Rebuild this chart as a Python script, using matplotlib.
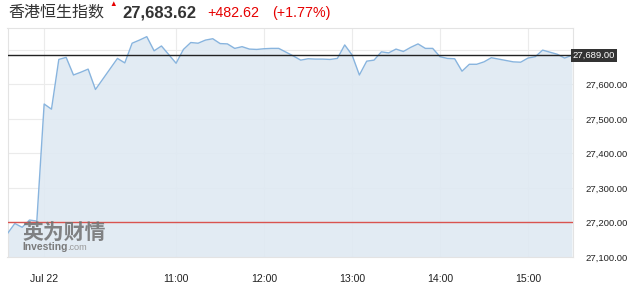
import matplotlib.pyplot as plt
import matplotlib.dates as mdates
import numpy as np
import pandas as pd

# Hang Seng index, 5 minute points on Jul 22
times = pd.date_range("2019-07-22 09:05", periods=78, freq="5min")
values = [27168, 27197, 27186, 27207, 27204, 27543, 27528, 27672, 27678, 27627,
          27635, 27644, 27585, 27615, 27645, 27675, 27662, 27719, 27728, 27738,
          27697, 27711, 27686, 27661, 27701, 27721, 27719, 27728, 27732, 27718,
          27717, 27704, 27709, 27702, 27701, 27703, 27704, 27704, 27693, 27682,
          27670, 27674, 27673, 27673, 27672, 27675, 27714, 27685, 27627, 27667,
          27670, 27694, 27691, 27702, 27695, 27707, 27717, 27704, 27704, 27680,
          27675, 27674, 27638, 27658, 27658, 27665, 27677, 27673, 27669, 27665,
          27664, 27676, 27680, 27699, 27693, 27687, 27676, 27684]

prev_close = 27200
last_price = 27683.62
last_label = "27,689.00"
y_ticks = [27100, 27200, 27300, 27400, 27500, 27600, 27700]
y_labels = ["27,100.00", "27,200.00", "27,300.00", "27,400.00", "27,500.00", "27,600.00", ""]
x_tick_times = ["2019-07-22 09:30", "2019-07-22 11:00", "2019-07-22 12:00",
                "2019-07-22 13:00", "2019-07-22 14:00", "2019-07-22 15:00"]
x_tick_labels = ["Jul 22", "11:00", "12:00", "13:00", "14:00", "15:00"]

plt.rcParams['font.family'] = ['Liberation Sans', 'Noto Sans CJK SC', 'DejaVu Sans']

fig = plt.figure(figsize=(6.44, 2.96), dpi=100)
ax = fig.add_axes([7.5 / 644, 1 - 257 / 296, (572.7 - 7.5) / 644, (257 - 27.5) / 296])

ax.fill_between(times, values, 27100, color="#dfe9f2", alpha=0.9, lw=0, zorder=2)
ax.plot(times, values, color="#88b4de", lw=1.0, zorder=3)

ax.axhline(prev_close, color="#d9534f", lw=1.0, zorder=4)
ax.axhline(last_price, color="#222222", lw=1.0, zorder=4)

ax.set_ylim(27100, 27764.5)
ax.set_xlim(pd.Timestamp("2019-07-22 09:05"), pd.Timestamp("2019-07-22 15:30:30"))

ax.yaxis.tick_right()
ax.set_yticks(y_ticks)
ax.set_yticklabels(y_labels)
ax.set_xticks([mdates.date2num(pd.Timestamp(t)) for t in x_tick_times])
ax.set_xticklabels(x_tick_labels)
ax.tick_params(axis='y', length=0, pad=9.5, labelsize=6.8, labelcolor="#222222")
ax.tick_params(axis='x', length=0, pad=12, labelsize=7.6, labelcolor="#222222")

ax.grid(True, color="#ebebeb", lw=0.8, zorder=1)
ax.set_axisbelow(True)
for s in ax.spines.values():
    s.set_color("#e3e3e3")
    s.set_linewidth(0.8)

# current value box on the right axis
ax.text(1.0, last_price, last_label, transform=ax.get_yaxis_transform(),
        ha="left", va="center", fontsize=6.8, color="white", zorder=6,
        bbox=dict(boxstyle="square,pad=0.22", fc="#333333", ec="none"))

# header
fig.text(8 / 644, 1 - 12.5 / 296, "香港恒生指数", family=['Noto Sans CJK SC'],
         fontsize=11.5, color="#333333", va="center")
fig.text(113 / 644, 1 - 5 / 296, "▲", fontsize=5.5, color="#e60000", ha="center", va="center")
fig.text(122 / 644, 1 - 13 / 296, "27,683.62", fontsize=12, fontweight="bold",
         color="#333333", va="center")
fig.text(207 / 644, 1 - 13 / 296, "+482.62", fontsize=10.3, color="#e60000", va="center")
fig.text(272 / 644, 1 - 13 / 296, "(+1.77%)", fontsize=10.3, color="#e60000", va="center")

# watermark
fig.text(22 / 644, 1 - 232 / 296, "英为财情", family=['Noto Sans CJK SC'], fontweight="bold",
         fontsize=15, color="#6f6f6f", alpha=0.85, va="center")
fig.text(22.5 / 644, 1 - 247.5 / 296, "Investing", fontsize=7.4, fontweight="bold",
         color="#7a7a7a", va="center")
fig.text(67.5 / 644, 1 - 248 / 296, ".com", fontsize=6.6, color="#9a9a9a", va="center")

fig.savefig("out.png", dpi=100)
